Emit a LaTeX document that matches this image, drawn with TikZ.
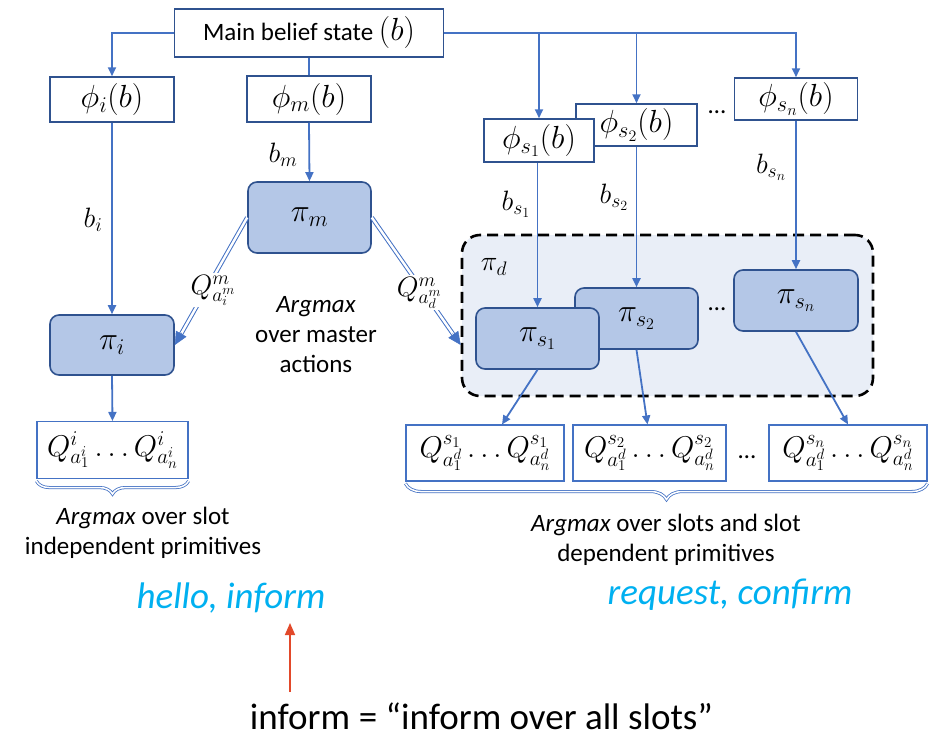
\RequirePackage{fix-cm}
\documentclass[tikz,border=0pt]{standalone}
\usepackage{fontspec}
\setmainfont{Carlito}
\usetikzlibrary{arrows.meta,decorations.pathreplacing,calc}
\definecolor{lblue}{HTML}{4472C4}
\definecolor{dblue}{HTML}{2F528F}
\definecolor{pfill}{HTML}{B4C7E7}
\definecolor{dfill}{HTML}{E9EEF7}
\definecolor{cyanx}{HTML}{00B0F0}
\definecolor{redx}{HTML}{E2492A}
\newcommand{\mfs}{\fontsize{32}{36}\selectfont}
\newcommand{\qfs}{\fontsize{30}{34}\selectfont}
\newcommand{\lfs}{\fontsize{28}{32}\selectfont}
\newcommand{\tfs}{\fontsize{25}{30}\selectfont}
\begin{document}
\begin{tikzpicture}[x=1pt,y=-1pt,
  phibox/.style={draw=dblue, line width=1.5pt, fill=white, inner sep=0pt, font=\mfs},
  pibox/.style={draw=dblue, line width=1.6pt, fill=pfill, rounded corners=9pt, inner sep=0pt, font=\mfs},
  qbox/.style={draw=lblue, line width=1.1pt, fill=white, inner sep=0pt, font=\qfs},
  arr/.style={draw=lblue, line width=1.8pt, -{Triangle[length=9pt,width=8pt]}},
  ln/.style={draw=lblue, line width=1.8pt},
  dbl/.style={draw=lblue, line width=1pt, double=white, double distance=2.4pt},
  brc/.style={draw=lblue, line width=0.8pt, double=white, double distance=1.5pt, decorate},
  lbl/.style={font=\lfs, inner sep=0pt},
  txt/.style={font=\tfs, align=center, inner sep=0pt},
  big/.style={font=\fontsize{37}{42}\selectfont, inner sep=0pt}
]
\useasboundingbox (0,0) rectangle (935,736);

% dashed container
\node[draw=black, line width=2.6pt, dash pattern=on 11pt off 6pt, fill=dfill, rounded corners=18pt,
      minimum width=411pt, minimum height=161pt, inner sep=0pt] (pid) at (667.5,315.5) {};
\node[lbl] (pidl) at (494,267) {$\pi_d$};

% top boxes
\node[phibox, minimum width=269pt, minimum height=48pt] (main) at (309,33)
  {\tfs Main belief state \mfs$(b)$};
\node[phibox, minimum width=124pt, minimum height=45pt] (phii) at (112,99.5) {$\phi_i(b)$};
\node[phibox, minimum width=124pt, minimum height=46pt] (phim) at (309,99) {$\phi_m(b)$};
\node[phibox, minimum width=121pt, minimum height=42pt] (phis2) at (636.5,125) {$\phi_{s_2}(b)$};
\node[phibox, minimum width=110pt, minimum height=43pt] (phis1) at (539,140.5) {$\phi_{s_1}(b)$};
\node[phibox, minimum width=123pt, minimum height=42pt] (phisn) at (796,99) {$\phi_{s_n}(b)$};
\node[txt] (dots1) at (717,112) {\dots};

% pi boxes
\node[pibox, minimum width=123pt, minimum height=71pt] (pim) at (309.5,217.5) {$\pi_m$};
\node[pibox, minimum width=124pt, minimum height=60pt] (pii) at (112,345) {$\pi_i$};
\node[pibox, minimum width=123pt, minimum height=61pt] (pis2) at (636.5,318.5) {$\pi_{s_2}$};
\node[pibox, minimum width=123pt, minimum height=61pt] (pis1) at (537.5,338.5) {$\pi_{s_1}$};
\node[pibox, minimum width=124pt, minimum height=61pt] (pisn) at (796,300.5) {$\pi_{s_n}$};
\node[txt] (dots2) at (717,309) {\dots};

% Q boxes
\node[qbox, minimum width=151pt, minimum height=57pt] (qi) at (112.5,450)
  {$Q^{i}_{a^i_1}\ldots Q^{i}_{a^i_n}$};
\node[qbox, minimum width=158pt, minimum height=56pt] (qs1) at (485,453)
  {$Q^{s_1}_{a^d_1}\ldots Q^{s_1}_{a^d_n}$};
\node[qbox, minimum width=153pt, minimum height=56pt] (qs2) at (649.5,453)
  {$Q^{s_2}_{a^d_1}\ldots Q^{s_2}_{a^d_n}$};
\node[qbox, minimum width=158pt, minimum height=56pt] (qsn) at (848,453)
  {$Q^{s_n}_{a^d_1}\ldots Q^{s_n}_{a^d_n}$};
\node[txt] (dots3) at (747,457) {\dots};

% connectors from main
\draw[arr] (main.west) -| (phii.north);
\draw[ln] (main.south) -- (phim.north);
\draw[arr] (main.east) -| (phis1.north);
\draw[arr] (main.east) -| (phis2.north);
\draw[arr] (main.east) -| (phisn.north);

% belief arrows
\draw[arr] (phii.south) -- (pii.north);
\draw[arr] (phim.south) -- (pim.north);
\draw[arr] (phis1.south -| pis1.north) -- (pis1.north);
\draw[arr] (phis2.south) -- (pis2.north);
\draw[arr] (phisn.south) -- (pisn.north);
\node[lbl] (bi) at (93,220) {$b_i$};
\node[lbl] (bm) at (283,155) {$b_m$};
\node[lbl] (bs1) at (516,204) {$b_{s_1}$};
\node[lbl] (bs2) at (614,197) {$b_{s_2}$};
\node[lbl] (bsn) at (771,167) {$b_{s_n}$};

% double arrows from master
\coordinate (tl) at (pii.east);
\coordinate (tr) at (pid.west |- pii.east);
\draw[dbl, shorten >=10pt] (pim.west) -- (tl)
  node[lbl, pos=0.57, xshift=7pt, fill=white, inner sep=2pt] {$Q^{m}_{a^m_i}$};
\draw[-{Triangle[length=13pt,width=12pt]}, draw=lblue, fill=lblue, line width=0.5pt]
  ($(tl)!14pt!(pim.west)$) -- (tl);
\draw[dbl, shorten >=10pt] (pim.east) -- (tr)
  node[lbl, pos=0.59, xshift=-5pt, fill=white, inner sep=2pt] {$Q^{m}_{a^m_d}$};
\draw[-{Triangle[length=13pt,width=12pt]}, draw=lblue, fill=lblue, line width=0.5pt]
  ($(tr)!14pt!(pim.east)$) -- (tr);

\node[txt] (argm) at (316,335) {\textit{Argmax}\\over master\\actions};

% to Q boxes
\draw[arr] (pii.south) -- (qi.north);
\draw[arr] (pis1.south) -- ([xshift=17pt]qs1.north);
\draw[arr] (pis2.south) -- ([xshift=-2pt]qs2.north);
\draw[arr] (pisn.south) -- (qsn.north);

% braces
\draw[brc, decoration={brace, mirror, amplitude=13pt, raise=2pt}] (qi.south west) -- (qi.south east);
\draw[brc, decoration={brace, mirror, amplitude=16pt, raise=2pt}] (qs1.south west) -- (qsn.south east);

\node[txt] (al) at (143,533) {\textit{Argmax} over slot\\independent primitives};
\node[txt] (ar) at (666,540) {\textit{Argmax} over slots and slot\\dependent primitives};

\node[big, font=\fontsize{37}{42}\selectfont\itshape, text=cyanx, anchor=base] (hello) at (231,608) {hello, inform};
\node[big, font=\fontsize{37}{42}\selectfont\itshape, text=cyanx, anchor=base] (req) at (730,604) {request, confirm};

\node[big, anchor=base] (infw) at (300,729) {inform};
\node[big, anchor=base west] (infr) at (infw.base east) {\ = “inform over all slots”};
\coordinate (ab) at ([xshift=-10pt]infw.base);
\draw[draw=redx, line width=1.6pt, -{Triangle[length=12pt,width=10pt]}]
  ([yshift=37pt]ab) -- ([yshift=-15pt]hello.base -| ab);
\end{tikzpicture}
\end{document}
